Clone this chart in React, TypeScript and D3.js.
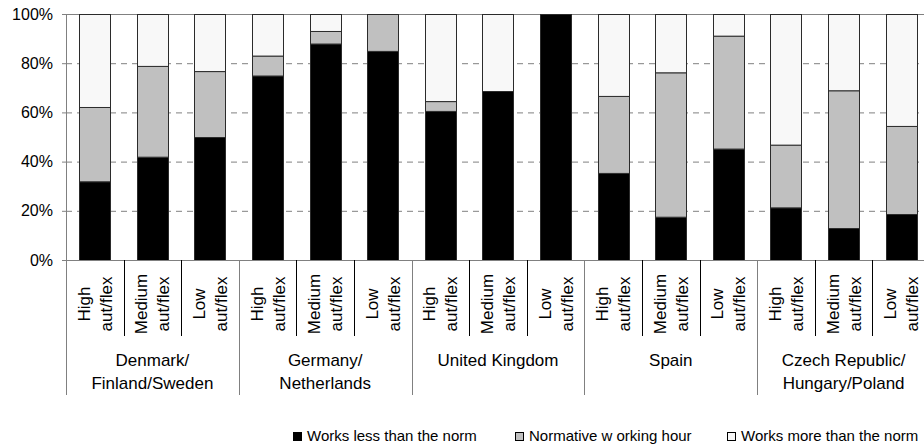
import React, { useEffect, useRef } from "react";
import * as d3 from "d3";

// percent shares per bar, bottom to top
const groups = [
  "Denmark/\nFinland/Sweden",
  "Germany/\nNetherlands",
  "United Kingdom",
  "Spain",
  "Czech Republic/\nHungary/Poland",
];
const levels = ["High\naut/flex", "Medium\naut/flex", "Low\naut/flex"];

const lessThanNorm = [32, 42, 50, 75, 88, 85, 60.6, 68.7, 100, 35.4, 17.6, 45.3, 21.4, 13, 18.7];
const normative = [30.2, 36.9, 26.8, 8.1, 5.1, 15, 4, 0, 0, 31.3, 58.7, 45.9, 25.5, 56, 35.8];
const moreThanNorm = [37.8, 21.1, 23.2, 16.9, 6.9, 0, 35.4, 31.3, 0, 33.3, 23.7, 8.8, 53.1, 31, 45.5];

const seriesNames = ["Works less than the norm", "Normative w orking hour", "Works more than the norm"];
const seriesColors = ["#000000", "#c0c0c0", "#f8f8f8"];
const yTicks = [0, 20, 40, 60, 80, 100];

const W = 924;
const H = 446;
const FONT = "Arial, 'Liberation Sans', sans-serif";

export default function App() {
  const ref = useRef<SVGSVGElement>(null);

  useEffect(() => {
    document.body.style.margin = "0";
    const svg = d3.select(ref.current);
    svg.selectAll("*").remove();

    const left = 66, top = 14, bottom = 260;
    const bars = groups.flatMap((g, gi) => levels.map((l, li) => ({ id: gi * 3 + li, g, l })));

    const x = d3.scaleBand<number>()
      .domain(bars.map((b) => b.id))
      .range([left, left + 57.6 * bars.length])
      .paddingInner(0.46)
      .paddingOuter(0.23);
    const y = d3.scaleLinear().domain([0, 100]).range([bottom, top]);
    const step = x.step();
    const edge = (i: number) => left + i * step;

    // gridlines
    svg.append("g")
      .selectAll("line")
      .data(yTicks.filter((t) => t > 0))
      .enter()
      .append("line")
      .attr("x1", left)
      .attr("x2", W)
      .attr("y1", (d) => y(d) + 0.5)
      .attr("y2", (d) => y(d) + 0.5)
      .attr("stroke", "#808080")
      .attr("stroke-width", 1)
      .attr("stroke-dasharray", (d) => (d === 100 ? null : "6,5"));

    // stacked bars
    const rows = bars.map((b) => ({
      id: b.id,
      less: lessThanNorm[b.id],
      norm: normative[b.id],
      more: moreThanNorm[b.id],
    }));
    const stack = d3.stack<any>().keys(["less", "norm", "more"]);
    const layers = stack(rows);

    svg.append("g")
      .selectAll("g")
      .data(layers)
      .enter()
      .append("g")
      .attr("fill", (d, i) => seriesColors[i])
      .selectAll("rect")
      .data((d) => d.filter((s) => s[1] - s[0] > 0.01))
      .enter()
      .append("rect")
      .attr("x", (d) => Math.round(x(d.data.id)!) + 0.5)
      .attr("y", (d) => y(d[1]) + 0.5)
      .attr("width", Math.round(x.bandwidth()))
      .attr("height", (d) => y(d[0]) - y(d[1]))
      .attr("stroke", "#2b2b2b")
      .attr("stroke-width", 1);

    // axes lines
    const axisColor = "#808080";
    svg.append("line")
      .attr("x1", left + 0.5).attr("x2", left + 0.5)
      .attr("y1", top).attr("y2", 395)
      .attr("stroke", axisColor);
    svg.append("line")
      .attr("x1", left - 4).attr("x2", W)
      .attr("y1", bottom + 0.5).attr("y2", bottom + 0.5)
      .attr("stroke", axisColor);

    const ticks = svg.append("g");
    ticks.selectAll("line")
      .data(yTicks)
      .enter()
      .append("line")
      .attr("x1", left - 4).attr("x2", left)
      .attr("y1", (d) => y(d) + 0.5).attr("y2", (d) => y(d) + 0.5)
      .attr("stroke", axisColor);
    ticks.selectAll("text")
      .data(yTicks)
      .enter()
      .append("text")
      .attr("x", 53)
      .attr("y", (d) => y(d))
      .attr("dy", "0.35em")
      .attr("text-anchor", "end")
      .style("font-family", FONT)
      .style("font-size", "16px")
      .text((d) => d + "%");

    // category dividers
    svg.append("g")
      .selectAll("line")
      .data(d3.range(1, bars.length + 1))
      .enter()
      .append("line")
      .attr("x1", (i) => Math.round(edge(i)) + 0.5)
      .attr("x2", (i) => Math.round(edge(i)) + 0.5)
      .attr("y1", bottom)
      .attr("y2", (i) => (i % 3 === 0 ? 395 : 336))
      .attr("stroke", (i) => (i % 3 === 0 ? axisColor : "#000"));

    // bar labels, rotated
    const sub = svg.append("g")
      .selectAll("g")
      .data(bars)
      .enter()
      .append("g")
      .attr("transform", (b) => `translate(${x(b.id)! + x.bandwidth() / 2},304) rotate(-90)`);
    sub.each(function (b) {
      const lines = b.l.split("\n");
      d3.select(this)
        .selectAll("text")
        .data(lines)
        .enter()
        .append("text")
        .attr("x", 0)
        .attr("y", (d, i) => (i - 0.5) * 22)
        .attr("dy", "0.35em")
        .attr("text-anchor", "middle")
        .style("font-family", FONT)
        .style("font-size", "17px")
        .text((d) => d);
    });

    // group labels
    const grp = svg.append("g")
      .selectAll("text")
      .data(groups)
      .enter()
      .append("text")
      .attr("x", (g, gi) => edge(gi * 3 + 1.5))
      .attr("y", 366)
      .attr("text-anchor", "middle")
      .style("font-family", FONT)
      .style("font-size", "17px");
    grp.each(function (g) {
      d3.select(this)
        .selectAll("tspan")
        .data(g.split("\n"))
        .enter()
        .append("tspan")
        .attr("x", d3.select(this).attr("x"))
        .attr("dy", (d, i) => (i === 0 ? 0 : 23))
        .text((d) => d);
    });

    // legend
    const legendX = [293, 515, 727];
    const leg = svg.append("g")
      .selectAll("g")
      .data(seriesNames)
      .enter()
      .append("g")
      .attr("transform", (d, i) => `translate(${legendX[i]},432)`);
    leg.append("rect")
      .attr("x", 0.5).attr("y", 0.5)
      .attr("width", 8).attr("height", 8)
      .attr("fill", (d, i) => seriesColors[i])
      .attr("stroke", "#000");
    leg.append("text")
      .attr("x", 14)
      .attr("y", 9)
      .style("font-family", FONT)
      .style("font-size", "15px")
      .text((d) => d);
  }, []);

  return <svg ref={ref} width={W} height={H} style={{ display: "block", background: "#fff" }} />;
}
